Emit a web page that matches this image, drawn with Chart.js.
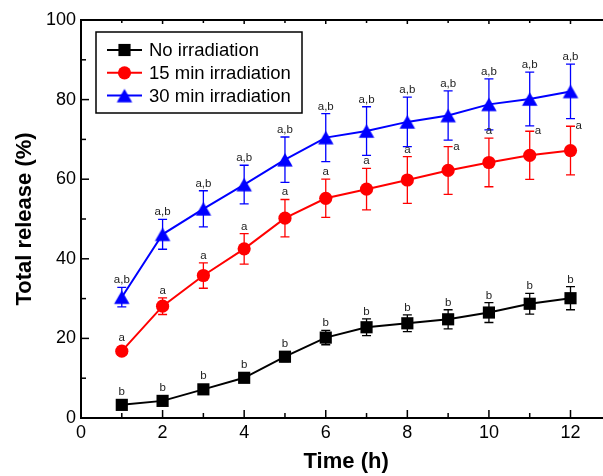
<!DOCTYPE html>
<html><head><meta charset="utf-8">
<script src="https://cdn.jsdelivr.net/npm/chart.js@4/dist/chart.umd.min.js"></script>
<style>html,body{margin:0;padding:0;overflow:hidden;background:#fff;width:603px;height:476px}
#wrap{width:620px;height:476px}</style>
</head><body><div id="wrap"><canvas id="c" width="620" height="476"></canvas></div>
<script>
const times=[1,2,3,4,5,6,7,8,9,10,11,12];
const seriesNames=['No irradiation','15 min irradiation','30 min irradiation'];
const noIrr=[3.3,4.3,7.2,10.1,15.4,20.2,22.8,23.8,24.8,26.5,28.7,30.1];
const noIrrErr=[0.8,0.8,1.0,1.0,1.2,1.8,2.1,2.1,2.4,2.5,2.6,2.9];
const min15=[16.8,28.1,35.8,42.5,50.2,55.2,57.5,59.8,62.2,64.2,66.0,67.2];
const min15Err=[1.0,2.1,3.2,3.85,4.7,4.8,5.2,5.85,6.0,6.1,6.05,6.1];
const min30=[30.35,46.15,52.55,58.65,64.9,70.45,72.1,74.4,76.0,78.8,80.15,82.05];
const min30Err=[2.45,3.75,4.55,4.85,5.7,6.05,6.1,6.2,6.2,6.4,6.75,6.85];
const noIrrLabels=['b','b','b','b','b','b','b','b','b','b','b','b'];
const min15Labels=['a','a','a','a','a','a','a','a','a','a','a','a'];
const min30Labels=['a,b','a,b','a,b','a,b','a,b','a,b','a,b','a,b','a,b','a,b','a,b','a,b'];
const xTicks=[0,2,4,6,8,10,12];
const yTicks=[0,20,40,60,80,100];
const xTitle='Time (h)';
const yTitle='Total release (%)';

const FONT='"Liberation Sans", Arial, sans-serif';

// triangle marker centred on its bounding box (as in the reference)
function triCanvas(color,w,h){
  const c=document.createElement('canvas');
  c.width=Math.ceil(w)+2;c.height=Math.ceil(h)+2;
  const g=c.getContext('2d');g.fillStyle=color;
  const cx=c.width/2,cy=c.height/2;
  g.beginPath();g.moveTo(cx,cy-h/2);g.lineTo(cx+w/2,cy+h/2);g.lineTo(cx-w/2,cy+h/2);g.closePath();g.fill();
  return c;
}
const triImg=triCanvas('#0000ff',15.5,13.4);

const series=[
  {name:seriesNames[0],vals:noIrr,err:noIrrErr,labels:noIrrLabels,color:'#000000',style:'rect',r:8.6,half:6.1,side:[]},
  {name:seriesNames[1],vals:min15,err:min15Err,labels:min15Labels,color:'#ff0000',style:'circle',r:6.6,half:6.6,side:[8,10,11]},
  {name:seriesNames[2],vals:min30,err:min30Err,labels:min30Labels,color:'#0000ff',style:'triangle',r:8.7,half:6.7,side:[]}
];

function drawMarker(ctx,s,x,y){
  ctx.fillStyle=s.color;ctx.beginPath();
  if(s.style==='rect'){const h=Math.SQRT1_2*s.r;ctx.rect(x-h,y-h,2*h,2*h);ctx.fill();}
  else if(s.style==='circle'){ctx.arc(x,y,s.r,0,Math.PI*2);ctx.fill();}
  else{ctx.drawImage(triImg,x-triImg.width/2,y-triImg.height/2);}
}

const errPlugin={id:'err',
  beforeDatasetsDraw(chart){
    const {ctx,scales:{x,y}}=chart;
    series.forEach(s=>{
      ctx.save();ctx.strokeStyle=s.color;ctx.lineWidth=1.3;
      s.vals.forEach((v,i)=>{
        const px=x.getPixelForValue(times[i]);
        const t=y.getPixelForValue(v+s.err[i]);
        const b=y.getPixelForValue(v-s.err[i]);
        ctx.beginPath();
        ctx.moveTo(px,t);ctx.lineTo(px,b);
        ctx.moveTo(px-4.5,t);ctx.lineTo(px+4.5,t);
        ctx.moveTo(px-4.5,b);ctx.lineTo(px+4.5,b);
        ctx.stroke();
      });
      ctx.restore();
    });
  },
  afterDatasetsDraw(chart){
    const {ctx,scales:{x,y}}=chart;
    ctx.save();
    ctx.font='11.5px '+FONT;ctx.fillStyle='#222';
    series.forEach(s=>{
      s.vals.forEach((v,i)=>{
        const px=x.getPixelForValue(times[i]);
        const py=y.getPixelForValue(v);
        const t=y.getPixelForValue(v+s.err[i]);
        const top=Math.min(t,py-s.half);
        ctx.textBaseline='alphabetic';
        if(s.side.includes(i)){
          ctx.textAlign='left';
          ctx.fillText(s.labels[i],px+5,t+3);
        }else{
          ctx.textAlign='center';
          ctx.fillText(s.labels[i],px,top-4);
        }
      });
    });
    ctx.restore();
  },
  afterDraw(chart){
    const {ctx,chartArea:ca,scales:{x,y}}=chart;
    ctx.save();
    ctx.strokeStyle='#000';ctx.lineWidth=2;
    ctx.beginPath();ctx.moveTo(ca.left-1,ca.top);ctx.lineTo(ca.right,ca.top);ctx.lineTo(ca.right,ca.bottom);ctx.stroke();
    ctx.lineWidth=1.5;
    for(let v=0;v<=13;v++){
      const px=x.getPixelForValue(v);
      const major=v%2===0;
      ctx.beginPath();
      ctx.moveTo(px,ca.bottom);ctx.lineTo(px,ca.bottom-(major?8:5));
      ctx.moveTo(px,ca.top);ctx.lineTo(px,ca.top+(major?4:3));
      ctx.stroke();
    }
    for(let v=0;v<=100;v+=10){
      const py=y.getPixelForValue(v);
      const major=v%20===0;
      ctx.beginPath();
      ctx.moveTo(ca.left,py);ctx.lineTo(ca.left+(major?8:5),py);
      ctx.stroke();
    }
    ctx.fillStyle='#000';ctx.font='bold 22px '+FONT;
    ctx.textAlign='center';ctx.textBaseline='middle';
    ctx.fillText(xTitle,(ca.left+ca.right)/2,462);
    ctx.save();ctx.translate(25,(ca.top+ca.bottom)/2);ctx.rotate(-Math.PI/2);
    ctx.fillText(yTitle,0,0);ctx.restore();
    const L=96,T=32,W=206,H=81;
    ctx.fillStyle='#fff';ctx.fillRect(L,T,W,H);
    ctx.lineWidth=1.5;ctx.strokeStyle='#000';ctx.strokeRect(L,T,W,H);
    ctx.font='18.5px '+FONT;ctx.textAlign='left';ctx.textBaseline='middle';
    series.forEach((s,i)=>{
      const ry=50+i*22.8;
      ctx.strokeStyle=s.color;ctx.lineWidth=2;
      ctx.beginPath();ctx.moveTo(107,ry);ctx.lineTo(142,ry);ctx.stroke();
      drawMarker(ctx,s,124.5,ry);
      ctx.fillStyle='#000';ctx.fillText(s.name,149,ry+1);
    });
    ctx.restore();
  }
};

new Chart(document.getElementById('c'),{
  type:'line',
  data:{datasets:series.map(s=>({
    label:s.name,
    data:times.map((t,i)=>({x:t,y:s.vals[i]})),
    borderColor:s.color,backgroundColor:s.color,borderWidth:2,
    pointStyle:s.style==='triangle'?triImg:s.style,pointRadius:s.r,pointHoverRadius:s.r,pointBorderWidth:0,
    tension:0,clip:false
  }))},
  options:{
    responsive:false,animation:false,devicePixelRatio:1,
    layout:{padding:{top:20,right:7,left:0,bottom:0}},
    plugins:{legend:{display:false},tooltip:{enabled:false}},
    scales:{
      x:{type:'linear',min:0,max:13,
        afterFit(s){s.height=58;},
        afterBuildTicks(s){s.ticks=xTicks.map(v=>({value:v}));},
        grid:{display:false,drawTicks:false},
        border:{display:true,color:'#000',width:2},
        ticks:{color:'#000',font:{family:FONT,size:18},padding:4,maxRotation:0,autoSkip:false}
      },
      y:{type:'linear',min:0,max:100,
        afterFit(s){s.width=81;},
        afterBuildTicks(s){s.ticks=yTicks.map(v=>({value:v}));},
        grid:{display:false,drawTicks:false},
        border:{display:true,color:'#000',width:2},
        ticks:{color:'#000',font:{family:FONT,size:18},padding:5}
      }
    }
  },
  plugins:[errPlugin]
});
</script></body></html>
